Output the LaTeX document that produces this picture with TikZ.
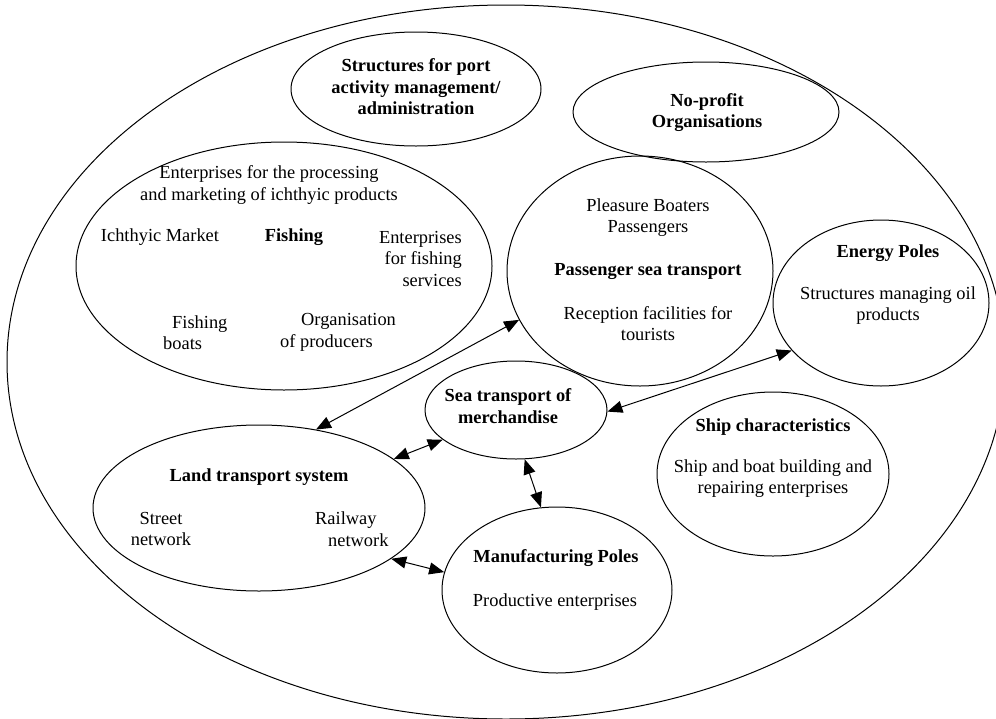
\documentclass[tikz,border=0pt]{standalone}
\usepackage{fontspec}
\setmainfont{Liberation Serif}
\usetikzlibrary{shapes.geometric,arrows.meta}
\tikzset{
  zone/.style={draw,ellipse,line width=1pt,inner sep=0pt},
  txt/.style={inner sep=0pt,align=center,font=\fontsize{18.4}{21.5}\selectfont},
  head/.style={txt,font=\fontsize{18.4}{21.5}\selectfont\bfseries},
  link/.style={line width=1pt,{Triangle[length=15pt,width=12pt]}-{Triangle[length=15pt,width=12pt]}}
}
\begin{document}
\begin{tikzpicture}[x=1pt,y=-1pt]
\useasboundingbox(0,0) rectangle (996,718);
\node[zone,minimum width=998,minimum height=714] (harbour) at (506,362) {};
%
\node[zone,minimum width=250,minimum height=114] (port) at (416,89) {};
\node[zone,minimum width=266,minimum height=100] (noprofit) at (706,112) {};
\node[zone,minimum width=416,minimum height=248] (fish) at (284,266) {};
\node[zone,minimum width=266,minimum height=230] (pass) at (640,271) {};
\node[zone,minimum width=216,minimum height=166] (energy) at (881,303) {};
\node[zone,minimum width=182,minimum height=98] (merch) at (516,410) {};
\node[zone,minimum width=332,minimum height=166] (land) at (259,508) {};
\node[zone,minimum width=230,minimum height=166] (manuf) at (557,590) {};
\node[zone,minimum width=232,minimum height=164] (ship) at (773,474) {};
%
\node[head] (portT) at (416,87) {Structures for port\\activity management/\\administration};
\node[head] (noprofitT) at (707,112.5) {No-profit\\Organisations};
%
\node[txt] (fishA) at (269,185) {Enterprises for the processing\\and marketing of ichthyic products};
\node[txt] (fishB) at (160,237) {Ichthyic Market};
\node[head] (fishT) at (294,237) {Fishing};
\node[txt,align=right,anchor=east] (fishC) at (462,258.5) {Enterprises\\for fishing\\services};
\node[txt,align=left,anchor=west] (fishD) at (163,332.5) {\hspace*{9pt}Fishing\\boats};
\node[txt,align=left,anchor=west] (fishE) at (280,332.5) {\hspace*{21pt}Organisation\\of producers};
%
\node[txt] (passA) at (648,217.5) {Pleasure Boaters\\Passengers};
\node[head] (passT) at (648,272) {Passenger sea transport};
\node[txt] (passB) at (648,323.5) {Reception facilities for\\tourists};
%
\node[head] (energyT) at (888,253) {Energy Poles};
\node[txt] (energyA) at (888,305.5) {Structures managing oil\\products};
%
\node[head] (merchT) at (508,406) {Sea transport of\\merchandise};
%
\node[head] (landT) at (259,477) {Land transport system};
\node[txt] (landA) at (161,529) {Street\\network};
\node[txt,align=left,anchor=west] (landB) at (315,529) {Railway\\\hspace*{13pt}network};
%
\node[head] (manufT) at (556,558) {Manufacturing Poles};
\node[txt] (manufA) at (555,602) {Productive enterprises};
%
\node[head] (shipT) at (773,427) {Ship characteristics};
\node[txt] (shipA) at (773,478.5) {Ship and boat building and\\repairing enterprises};
%
\draw[link](land.54)--(pass.202.5);
\draw[link](merch.359)--(energy.208.4);
\draw[link](land.20.8)--(merch.202.7);
\draw[link](land.339.5)--(manuf.171.6);
\draw[link](merch.280.2)--(manuf.101);
\end{tikzpicture}
\end{document}
